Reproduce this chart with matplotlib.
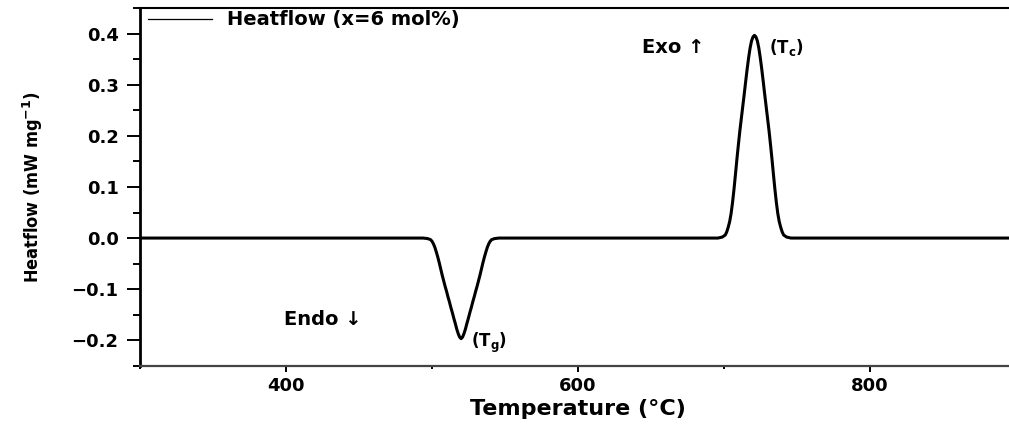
import matplotlib
matplotlib.use('Agg')
import matplotlib.pyplot as plt
from matplotlib.lines import Line2D
from matplotlib.ticker import MultipleLocator

# ---- data ----
temperature = [300, 400, 480, 494, 497, 499, 500, 501, 502, 503, 504, 505, 506, 507, 508,
               509, 510, 511, 512, 513, 514, 515, 516, 517, 518, 519, 520, 521, 522, 523,
               524, 525, 526, 527, 528, 529, 530, 531, 532, 533, 534, 535, 536, 537, 538,
               539, 540, 541, 543, 546, 560, 600, 680, 696, 699, 701, 702, 703, 704, 705,
               706, 707, 708, 709, 710, 711, 712, 713, 714, 715, 716, 717, 718, 719, 720,
               721, 722, 723, 724, 725, 726, 727, 728, 729, 730, 731, 732, 733, 734, 735,
               736, 737, 738, 739, 740, 741, 743, 746, 760, 900]
heatflow = [0.0, 0.0, 0.0, 0.0, -0.001, -0.003, -0.006, -0.011, -0.018, -0.027, -0.037,
            -0.048, -0.060, -0.072, -0.083, -0.094, -0.104, -0.115, -0.125, -0.136, -0.146,
            -0.157, -0.167, -0.178, -0.187, -0.194, -0.197, -0.194, -0.187, -0.178, -0.167,
            -0.157, -0.146, -0.136, -0.125, -0.115, -0.104, -0.094, -0.083, -0.072, -0.060,
            -0.048, -0.037, -0.027, -0.018, -0.011, -0.006, -0.003, -0.001, 0.0, 0.0, 0.0,
            0.0, 0.0, 0.002, 0.006, 0.012, 0.021, 0.032, 0.048, 0.070, 0.096, 0.125, 0.155,
            0.183, 0.210, 0.234, 0.258, 0.282, 0.307, 0.331, 0.353, 0.372, 0.386, 0.394,
            0.397, 0.394, 0.386, 0.372, 0.353, 0.331, 0.307, 0.282, 0.258, 0.234, 0.210,
            0.183, 0.155, 0.125, 0.096, 0.070, 0.048, 0.032, 0.021, 0.012, 0.006, 0.002,
            0.0, 0.0, 0.0]
series_label = 'Heatflow (x=6 mol%)'
x_label = 'Temperature (°C)'
y_label = 'Heatflow (mW mg$^{-1}$)'
annotations = [('Endo ↓', 399, -0.160, 14),
               ('(T$_\\mathbf{g}$)', 527, -0.205, 12),
               ('Exo ↑', 644, 0.374, 14),
               ('(T$_\\mathbf{c}$)', 731, 0.374, 12)]

plt.rcParams['font.family'] = ['DejaVu Sans']
plt.rcParams['font.weight'] = 'bold'
plt.rcParams['mathtext.fontset'] = 'dejavusans'

fig = plt.figure(figsize=(10.09, 4.25), dpi=100)
left, right = 140 / 1009, 1015.7 / 1009
bottom, top = (425 - 365.7) / 425, (425 - 8.3) / 425
ax = fig.add_axes([left, bottom, right - left, top - bottom])

ax.plot(temperature, heatflow, color='black', lw=2.2, solid_joinstyle='round')

ax.set_xlim(300, 900)
ax.set_ylim(-0.25, 0.45)
ax.xaxis.set_major_locator(MultipleLocator(200))
ax.xaxis.set_minor_locator(MultipleLocator(100))
ax.yaxis.set_major_locator(MultipleLocator(0.1))
ax.yaxis.set_minor_locator(MultipleLocator(0.05))

ax.spines['right'].set_visible(False)
ax.spines['left'].set_linewidth(2.0)
ax.spines['bottom'].set_linewidth(1.6)
ax.spines['bottom'].set_color('#444444')
ax.spines['top'].set_linewidth(1.5)

ax.tick_params(axis='y', which='major', direction='out', length=9.4, width=1.4,
               labelsize=13, pad=6)
ax.tick_params(axis='y', which='minor', direction='out', length=5, width=1.4)
ax.tick_params(axis='x', which='major', direction='out', length=4.3, width=1.4,
               labelsize=13, pad=4)
ax.tick_params(axis='x', which='minor', direction='out', length=2.2, width=1.4)
ax.tick_params(top=False, right=False, which='both')

ax.set_xlabel(x_label, fontsize=16, fontweight='bold', labelpad=3)
ax.set_ylabel(y_label, fontsize=13, fontweight='bold', fontstretch='condensed',
              family='DejaVu Sans')
ax.yaxis.set_label_coords(-0.108, 0.5)

handle = Line2D([], [], color='black', lw=0.9)
ax.legend([handle], [series_label], loc='center left',
          bbox_to_anchor=(0.009, 1 - (20 - 8.3) / 357.4), frameon=False,
          handlelength=3.3, handletextpad=0.75, borderpad=0, borderaxespad=0,
          prop={'size': 14, 'weight': 'bold'})

for txt, xv, yv, fs in annotations:
    ax.text(xv, yv, txt, fontsize=fs, fontweight='bold', ha='left', va='center')

fig.savefig('out.png', dpi=100)
